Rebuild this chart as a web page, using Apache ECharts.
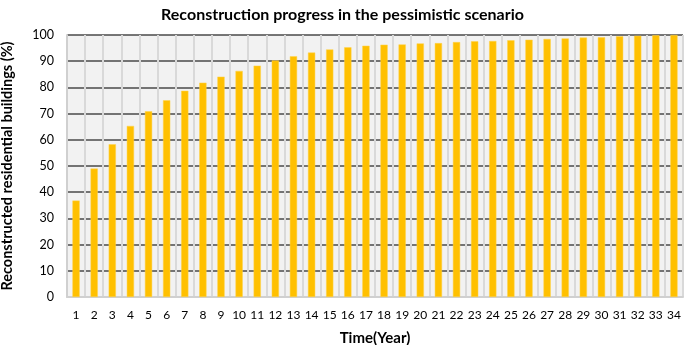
<!DOCTYPE html>
<html>
<head>
<meta charset="utf-8">
<script src="https://cdn.jsdelivr.net/npm/echarts@6/dist/echarts.min.js"></script>
<style>
  html, body { margin: 0; padding: 0; background: #fff; }
  #chart { width: 685px; height: 345px; }
</style>
</head>
<body>
<div id="chart"></div>
<script>
// years 1..34
const YEARS = ['1','2','3','4','5','6','7','8','9','10','11','12','13','14','15','16','17',
  '18','19','20','21','22','23','24','25','26','27','28','29','30','31','32','33','34']
// reconstructed share (%)
const PROGRESS = [36.8, 49.0, 58.3, 65.3, 70.9, 75.1, 78.7, 81.8, 84.1, 86.3, 88.3, 90.3,
  91.9, 93.3, 94.5, 95.3, 95.9, 96.3, 96.4, 96.8, 96.9, 97.3, 97.6, 97.7, 98.0, 98.2,
  98.5, 98.7, 99.0, 99.1, 99.5, 99.7, 99.9, 100]
const Y_MIN = 0, Y_MAX = 100, Y_STEP = 10

const FONT = 'Lato, "Open Sans", sans-serif'

let myChart = echarts.init(document.getElementById('chart'))
myChart.setOption({
  animation: false,
  title: {
    text: 'Reconstruction progress in the pessimistic scenario',
    left: 'center',
    top: 2,
    textStyle: { fontFamily: FONT, fontSize: 16, fontWeight: 'bold', color: '#000' }
  },
  grid: {
    left: 67,
    right: 2,
    top: 35,
    bottom: 48,
    outerBoundsMode: 'none',
    show: true,
    backgroundColor: '#f2f2f2',
    borderWidth: 0
  },
  xAxis: {
    type: 'category',
    data: YEARS,
    name: 'Time(Year)',
    nameLocation: 'middle',
    nameGap: 34,
    nameTextStyle: { fontFamily: FONT, fontSize: 15, fontWeight: 'bold', color: '#000' },
    axisLine: { show: true, lineStyle: { color: '#d0d0d0', width: 2 } },
    axisTick: { show: false },
    axisLabel: { fontFamily: FONT, fontSize: 12, color: '#000', margin: 12, interval: 0 },
    splitLine: { show: true, interval: 0, lineStyle: { color: '#d9d9d9', width: 2 } }
  },
  yAxis: {
    type: 'value',
    min: Y_MIN,
    max: Y_MAX,
    interval: Y_STEP,
    name: 'Reconstructed residential buildings (%)',
    nameLocation: 'middle',
    nameGap: 52,
    nameTextStyle: { fontFamily: FONT, fontSize: 14.5, fontWeight: 'bold', color: '#000' },
    axisLine: { show: true, lineStyle: { color: '#d0d0d0', width: 2 } },
    axisTick: { show: false },
    axisLabel: { fontFamily: FONT, fontSize: 12.5, color: '#000', margin: 13 },
    splitLine: { show: true, lineStyle: { color: '#4a4a4a', width: 1.5 } }
  },
  series: [{
    type: 'bar',
    data: PROGRESS,
    barCategoryGap: '60%',
    itemStyle: { color: '#ffc000', borderColor: '#ffd24d', borderWidth: 0.5 }
  }]
})
</script>
</body>
</html>
